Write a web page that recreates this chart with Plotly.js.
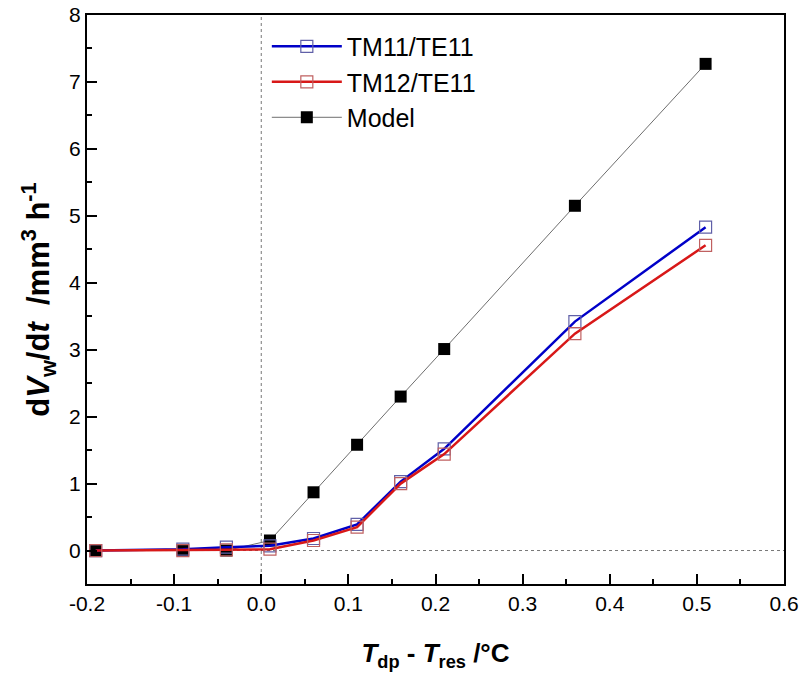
<!DOCTYPE html>
<html><head><meta charset="utf-8">
<script src="https://cdn.plot.ly/plotly-3.0.1.min.js"></script>
<style>html,body{margin:0;padding:0;background:#fff}#c{width:802px;height:679px}</style>
</head><body><div id="c"></div>
<script>
const xVals = [-0.19, -0.09, -0.04, 0.01, 0.06, 0.11, 0.16, 0.21, 0.36, 0.51];
const tm11 = [0.00, 0.02, 0.05, 0.07, 0.18, 0.39, 1.03, 1.52, 3.42, 4.83];
const tm12 = [0.00, 0.00, 0.01, 0.02, 0.15, 0.35, 1.00, 1.44, 3.24, 4.56];
const model = [0.00, 0.00, 0.00, 0.15, 0.87, 1.58, 2.30, 3.01, 5.15, 7.27];
const names = ['TM11/TE11', 'TM12/TE11', 'Model'];

const font = 'Liberation Sans, Arial, sans-serif';
const traces = [
  {x: xVals, y: model, name: names[2], mode: 'lines+markers', legendrank: 3,
   line: {color: '#6e6e6e', width: 1}, marker: {symbol: 'square', size: 12, color: '#000'}},
  {x: xVals, y: tm11, name: names[0], mode: 'lines+markers', legendrank: 1,
   line: {color: '#0000c8', width: 2.5}, marker: {symbol: 'square-open', size: 12, color: '#6060a8', line: {width: 1.2}}},
  {x: xVals, y: tm12, name: names[1], mode: 'lines+markers', legendrank: 2,
   line: {color: '#d81818', width: 2.5}, marker: {symbol: 'square-open', size: 12, color: '#c06060', line: {width: 1.2}}}
];

const axisCommon = {
  showline: true, linecolor: '#000', linewidth: 2, mirror: true,
  ticks: 'inside', ticklen: 10, tickwidth: 2, tickcolor: '#000',
  showgrid: false, zeroline: false,
  tickfont: {family: font, size: 21, color: '#000'},
  minor: {ticks: 'inside', ticklen: 5, tickwidth: 2, tickcolor: '#000', showgrid: false}
};

const layout = {
  width: 802, height: 679,
  margin: {l: 87, r: 18, t: 15, b: 95},
  paper_bgcolor: '#fff', plot_bgcolor: '#fff',
  showlegend: true,
  legend: {x: 0.258, y: 0.985, xanchor: 'left', yanchor: 'top', bgcolor: 'rgba(0,0,0,0)',
    font: {family: font, size: 25, color: '#000'}, itemwidth: 70, traceorder: 'normal', tracegroupgap: 0},
  xaxis: Object.assign({}, axisCommon, {
    range: [-0.2, 0.6], tickmode: 'array',
    tickvals: [-0.2, -0.1, 0, 0.1, 0.2, 0.3, 0.4, 0.5, 0.6],
    ticktext: ['-0.2', '-0.1', '0.0', '0.1', '0.2', '0.3', '0.4', '0.5', '0.6'],
    minor: Object.assign({}, axisCommon.minor, {dtick: 0.05, tick0: 0}),
    title: {text: '<b><i>T</i><sub>dp</sub> - <i>T</i><sub>res</sub> /°C</b>', font: {family: font, size: 26, color: '#000'}, standoff: 30}
  }),
  yaxis: Object.assign({}, axisCommon, {
    range: [-0.5, 8], tickmode: 'array', tickvals: [0, 1, 2, 3, 4, 5, 6, 7, 8],
    minor: Object.assign({}, axisCommon.minor, {dtick: 0.5, tick0: 0}),
    title: {text: '<b>d<i>V</i><sub>w</sub>/d<i>t</i>  /mm<sup>3</sup> h<sup>-1</sup></b>', font: {family: font, size: 31, color: '#000'}, standoff: 10}
  }),
  shapes: [
    {type: 'line', xref: 'x', yref: 'paper', x0: 0, x1: 0, y0: 0, y1: 1, line: {color: '#777', width: 1, dash: '3px,3px'}, layer: 'below'},
    {type: 'line', xref: 'paper', yref: 'y', x0: 0, x1: 1, y0: 0, y1: 0, line: {color: '#777', width: 1, dash: '3px,3px'}, layer: 'below'}
  ]
};

Plotly.newPlot('c', traces, layout, {displayModeBar: false, staticPlot: true});
</script></body></html>
